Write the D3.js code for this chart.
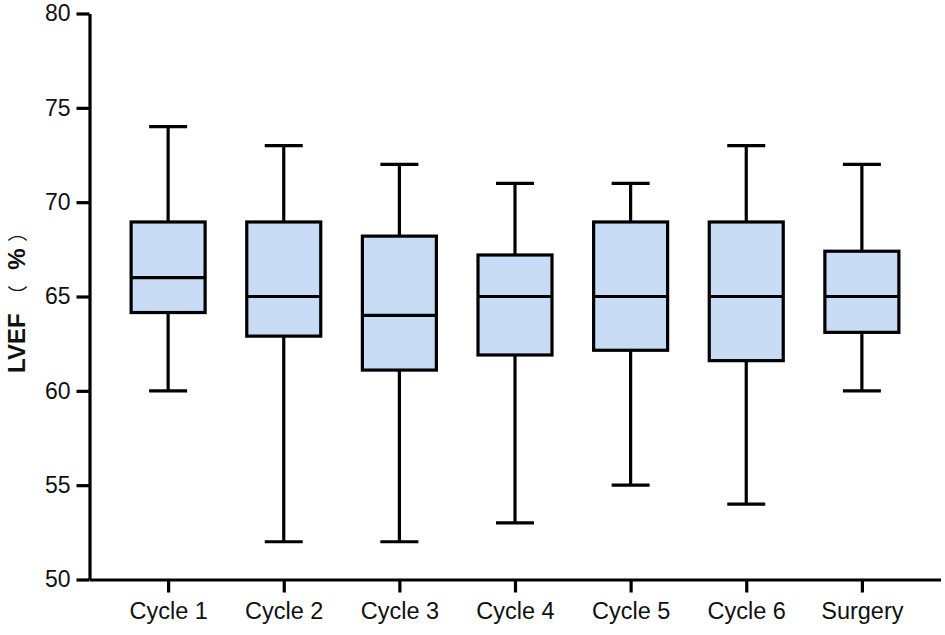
<!DOCTYPE html>
<html>
<head>
<meta charset="utf-8">
<script src="https://cdn.jsdelivr.net/npm/d3@7/dist/d3.min.js"></script>
<style>
  html, body { margin: 0; padding: 0; background: #fff; }
  svg { display: block; }
</style>
</head>
<body>
<svg id="chart" width="945" height="635"></svg>
<script>
// Data
const categories = ["Cycle 1", "Cycle 2", "Cycle 3", "Cycle 4", "Cycle 5", "Cycle 6", "Surgery"];
const whiskerLow  = [60, 52, 52, 53, 55, 54, 60];
const q1          = [64.15, 62.9, 61.1, 61.9, 62.15, 61.6, 63.1];
const median      = [66, 65, 64, 65, 65, 65, 65];
const q3          = [68.95, 68.95, 68.2, 67.2, 68.95, 68.95, 67.4];
const whiskerHigh = [74, 73, 72, 71, 71, 73, 72];
const yTicks = [50, 55, 60, 65, 70, 75, 80];
const yLabelMain = "LVEF";
const yLabelUnit = ["（", "%", "）"];

const svg = d3.select("#chart");
const mLeft = 89.5, mRight = 940.5, mTop = 13.5, mBottom = 579.5;

const x = d3.scalePoint().domain(categories).range([mLeft, mRight]).padding(0.68);
const y = d3.scaleLinear().domain([50, 80]).range([mBottom, mTop]);

const font = "Arial, 'Liberation Sans', Helvetica, sans-serif";
const cjk = "'Noto Sans CJK JP', 'Noto Sans CJK SC', sans-serif";
const boxW = 74, capW = 38, lw = 3.2;

const data = categories.map((c, i) => ({
  c, lo: whiskerLow[i], q1: q1[i], med: median[i], q3: q3[i], hi: whiskerHigh[i]
}));

const g = svg.append("g");
const box = g.selectAll("g.box").data(data).enter().append("g").attr("class", "box");

// whiskers
box.append("line")
  .attr("x1", d => x(d.c)).attr("x2", d => x(d.c))
  .attr("y1", d => y(d.hi)).attr("y2", d => y(d.q3))
  .attr("stroke", "#000").attr("stroke-width", lw);
box.append("line")
  .attr("x1", d => x(d.c)).attr("x2", d => x(d.c))
  .attr("y1", d => y(d.q1)).attr("y2", d => y(d.lo))
  .attr("stroke", "#000").attr("stroke-width", lw);
// caps
box.append("line")
  .attr("x1", d => x(d.c) - capW / 2).attr("x2", d => x(d.c) + capW / 2)
  .attr("y1", d => y(d.hi)).attr("y2", d => y(d.hi))
  .attr("stroke", "#000").attr("stroke-width", lw);
box.append("line")
  .attr("x1", d => x(d.c) - capW / 2).attr("x2", d => x(d.c) + capW / 2)
  .attr("y1", d => y(d.lo)).attr("y2", d => y(d.lo))
  .attr("stroke", "#000").attr("stroke-width", lw);
// box
box.append("rect")
  .attr("x", d => x(d.c) - boxW / 2)
  .attr("width", boxW)
  .attr("y", d => y(d.q3))
  .attr("height", d => y(d.q1) - y(d.q3))
  .attr("fill", "#c8dcf6")
  .attr("stroke", "#000").attr("stroke-width", lw);
// median
box.append("line")
  .attr("x1", d => x(d.c) - boxW / 2).attr("x2", d => x(d.c) + boxW / 2)
  .attr("y1", d => y(d.med)).attr("y2", d => y(d.med))
  .attr("stroke", "#000").attr("stroke-width", lw);

// axes
const yAxis = d3.axisLeft(y).tickValues(yTicks).tickSize(13).tickSizeOuter(0).tickPadding(6);
const yg = svg.append("g").attr("transform", `translate(${mLeft},0)`).call(yAxis);
const xAxis = d3.axisBottom(x).tickSize(13).tickSizeOuter(0).tickPadding(10);
const xg = svg.append("g").attr("transform", `translate(0,${mBottom})`).call(xAxis);

[yg, xg].forEach(a => {
  a.select(".domain").attr("stroke", "#000").attr("stroke-width", lw);
  a.selectAll(".tick line").attr("stroke", "#000").attr("stroke-width", lw);
  a.selectAll(".tick text").attr("fill", "#111").style("font-family", font);
});
yg.selectAll(".tick text").style("font-size", "23px");
xg.selectAll(".tick text").style("font-size", "23.5px");

// y label: a rotated group, reading upward from page y=373
const lab = svg.append("g").attr("transform", "translate(25,373) rotate(-90)");
lab.append("text").attr("x", 0).attr("text-anchor", "start")
  .style("font-family", font).style("font-size", "24px").style("font-weight", "bold")
  .attr("fill", "#111").text(yLabelMain);
const pieces = [
  { t: yLabelUnit[0], c: 78, f: cjk, w: "normal", s: 20 },
  { t: yLabelUnit[1], c: 114, f: font, w: "bold", s: 24 },
  { t: yLabelUnit[2], c: 141, f: cjk, w: "normal", s: 20 }
];
lab.selectAll("text.unit").data(pieces).enter().append("text")
  .attr("class", "unit")
  .attr("x", d => d.c).attr("text-anchor", "middle")
  .style("font-family", d => d.f).style("font-size", d => d.s + "px").style("font-weight", d => d.w)
  .attr("fill", "#111").text(d => d.t);
</script>
</body>
</html>
